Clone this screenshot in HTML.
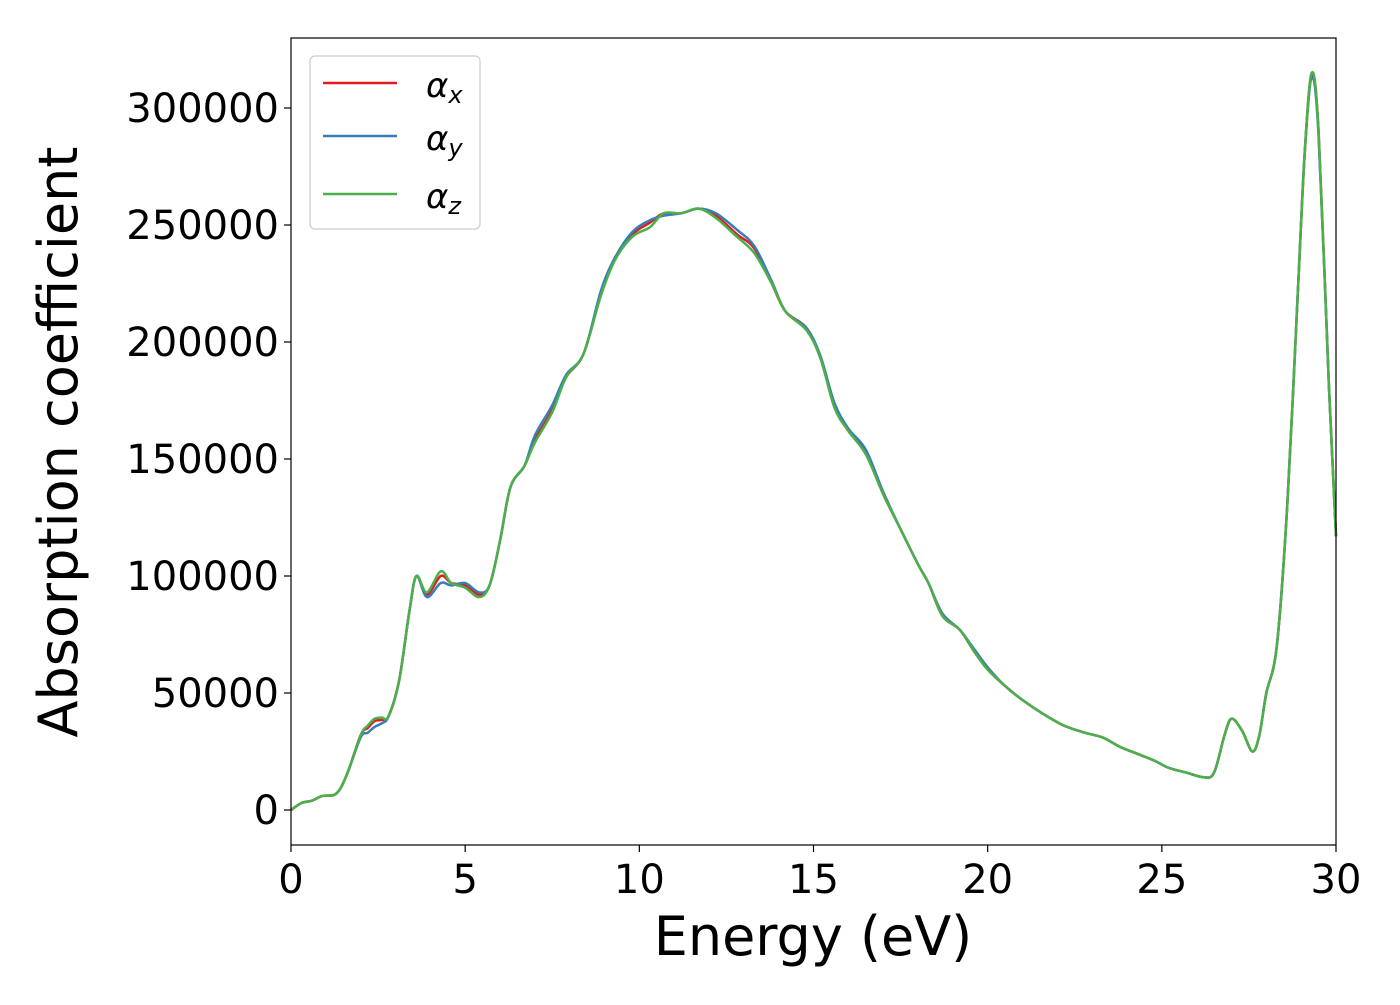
<!DOCTYPE html>
<html><head><meta charset="utf-8"><style>
body{margin:0;background:#fff;}
svg text{font-family:"DejaVu Sans","Liberation Sans",sans-serif;fill:#000;}
</style></head><body>
<svg id="chart" width="1400" height="1000" xmlns="http://www.w3.org/2000/svg">
<g id="curves"></g>
<rect x="291" y="38" width="1045" height="807" fill="none" stroke="#000" stroke-width="1.2"/>
<g id="axes"></g>
<text x="813" y="955" font-size="54" text-anchor="middle">Energy (eV)</text>
<text transform="translate(77,442) rotate(-90)" font-size="54" text-anchor="middle">Absorption coefficient</text>
<g>
<rect x="310" y="56" width="170" height="173" rx="5" fill="#fff" fill-opacity="0.8" stroke="#ccc" stroke-width="1.2"/>
<line x1="323" y1="83" x2="397" y2="83" stroke="#e41a1c" stroke-width="2.5"/>
<text x="426" y="97" font-size="34" font-style="italic">α<tspan font-size="24" dy="6">x</tspan></text>
<line x1="323" y1="136" x2="397" y2="136" stroke="#377eb8" stroke-width="2.5"/>
<text x="426" y="150" font-size="34" font-style="italic">α<tspan font-size="24" dy="6">y</tspan></text>
<line x1="323" y1="194" x2="397" y2="194" stroke="#4daf4a" stroke-width="2.5"/>
<text x="426" y="208" font-size="34" font-style="italic">α<tspan font-size="24" dy="6">z</tspan></text>
</g>
</svg>
<script>
const energies=[0,0.3,0.6,0.9,1.3,1.6,2.0,2.2,2.4,2.6,2.8,3.1,3.4,3.6,3.9,4.3,4.6,5.0,5.4,5.7,6.0,6.3,6.7,7.0,7.5,7.9,8.4,8.9,9.3,9.8,10.3,10.7,11.2,11.7,12.2,12.8,13.3,13.8,14.2,14.8,15.2,15.6,16.0,16.5,17.0,17.5,18.0,18.3,18.7,19.2,19.6,20.0,20.5,21.0,21.6,22.2,22.8,23.3,23.8,24.3,24.8,25.2,25.7,26.2,26.5,26.8,27.0,27.3,27.6,27.8,28.0,28.3,28.6,28.9,29.1,29.3,29.5,29.8,30.0];
const alphaZ=[0,3000,4000,6000,7000,15000,32000,36000,39000,39500,40000,55000,85000,100000,93000,102000,97000,95000,91000,96000,115000,138000,147000,157000,170000,185000,195000,220000,235000,245000,249000,255000,255000,257000,253000,245000,238000,225000,213000,205000,193000,172000,162000,152000,135000,120000,105000,97000,83000,77000,68000,60000,53000,47000,41000,36000,33000,31000,27000,24000,21000,18000,16000,14000,16000,32000,39000,34000,25000,32000,50000,70000,130000,220000,280000,315000,290000,180000,117000];
const alphaX=[0,3000,4000,6000,7000,15000,32000,35000,38000,38500,40000,55000,85000,100000,92000,100000,97000,96000,92000,96000,115000,138000,147000,158000,171000,185000,195000,221000,236000,246000,251000,255000,255000,257000,254000,246000,240000,225000,213000,206000,193000,173000,162000,153000,135000,120000,105000,97000,83000,77000,68000,60000,53000,47000,41000,36000,33000,31000,27000,24000,21000,18000,16000,14000,16000,32000,39000,34000,25000,32000,50000,70000,130000,220000,280000,314000,290000,180000,117000];
const alphaY=[0,3000,4000,6000,7000,15000,31000,33000,35500,37000,40000,55000,85000,100000,91000,97000,96000,97000,93000,96000,115000,138000,147000,160000,173000,186000,195000,222000,236000,247000,252000,254000,255000,257000,255000,248000,241000,226000,213000,206000,194000,174000,163000,154000,136000,120000,105000,97000,84000,77000,69000,61000,53000,47000,41000,36000,33000,31000,27000,24000,21000,18000,16000,14000,16000,32000,39000,34000,25000,32000,50000,70000,130000,220000,281000,313000,288000,180000,117000];
const xTicks=[0,5,10,15,20,25,30];
const yTicks=[0,50000,100000,150000,200000,250000,300000];
const X=e=>291+e*1045/30, Y=v=>810-v*(702/300000);
const ns="http://www.w3.org/2000/svg";
const axes=document.getElementById('axes');
function mk(tag,attrs,parent){const el=document.createElementNS(ns,tag);for(const k in attrs)el.setAttribute(k,attrs[k]);parent.appendChild(el);return el;}
xTicks.forEach(t=>{const l=mk('line',{x1:X(t),x2:X(t),y1:845,y2:852,stroke:'#000','stroke-width':1.2},axes);


const tx=mk('text',{x:X(t),y:893,'font-size':40,'text-anchor':'middle'},axes);tx.textContent=t;

});
yTicks.forEach(t=>{const l=mk('line',{x1:284,x2:291,y1:Y(t),y2:Y(t),stroke:'#000','stroke-width':1.2},axes);


const tx=mk('text',{x:279,y:Y(t)+14,'font-size':40,'text-anchor':'end'},axes);tx.textContent=t;

});
function path(vals){const p=energies.map((e,i)=>[X(e),Y(vals[i])]);let d=`M${p[0][0]},${p[0][1]}`;
for(let i=0;i<p.length-1;i++){const p0=p[Math.max(0,i-1)],p1=p[i],p2=p[i+1],p3=p[Math.min(p.length-1,i+2)];
d+=` C${p1[0]+(p2[0]-p0[0])/6},${p1[1]+(p2[1]-p0[1])/6} ${p2[0]-(p3[0]-p1[0])/6},${p2[1]-(p3[1]-p1[1])/6} ${p2[0]},${p2[1]}`;}return d;}
const g=document.getElementById('curves');
[[alphaX,'#e41a1c','series-alpha-x'],[alphaY,'#377eb8','series-alpha-y'],[alphaZ,'#4daf4a','series-alpha-z']].forEach(([v,c,n])=>{
const el=mk('path',{d:path(v),fill:'none',stroke:c,'stroke-width':2.5},g);

});
</script>
</body></html>
